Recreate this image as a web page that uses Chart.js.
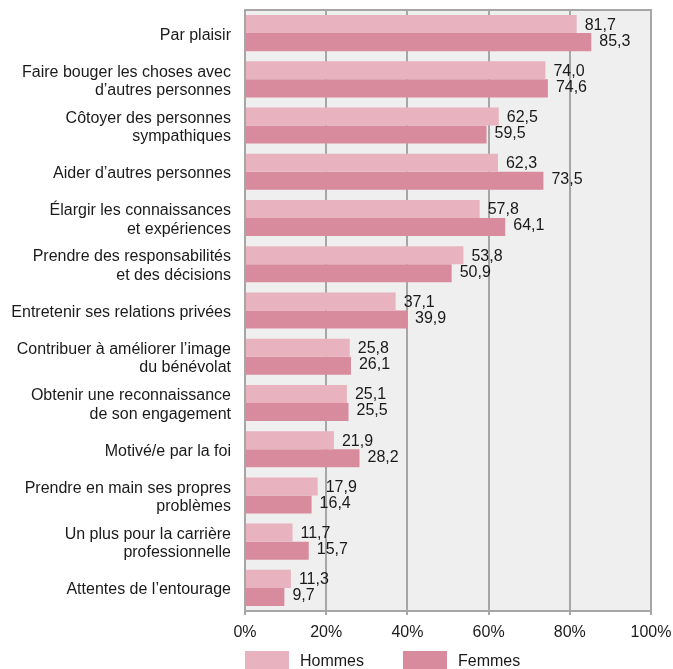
<!DOCTYPE html>
<html lang="fr">
<head>
<meta charset="utf-8">
<title>Motivations du bénévolat</title>
<script src="https://cdn.jsdelivr.net/npm/chart.js@4/dist/chart.umd.min.js"></script>
<style>
  body { margin: 0; background: #fff; }
  .wrap { position: relative; width: 673px; height: 669px; overflow: hidden; }
  .legende { position: absolute; top: 651px; font: 16px "Liberation Sans", Arial, sans-serif; color: #1a1a1a; }
  .legende span.box { position: absolute; top: 0; width: 44px; height: 20px; }
  .legende span.txt { position: absolute; top: 0; line-height: 19px; white-space: nowrap; }
</style>
</head>
<body>
<div class="wrap">
  <canvas id="graphique" width="673" height="669"></canvas>
  <div class="legende" style="left:245px"><span class="box" style="left:0;background:#e8b3bf"></span><span class="txt" style="left:55px">Hommes</span></div>
  <div class="legende" style="left:403px"><span class="box" style="left:0;background:#d98b9e"></span><span class="txt" style="left:55px">Femmes</span></div>
</div>
<script>
// données
const categories = [
  "Par plaisir",
  ["Faire bouger les choses avec", "d’autres personnes"],
  ["Côtoyer des personnes", "sympathiques"],
  "Aider d’autres personnes",
  ["Élargir les connaissances", "et expériences"],
  ["Prendre des responsabilités", "et des décisions"],
  "Entretenir ses relations privées",
  ["Contribuer à améliorer l’image", "du bénévolat"],
  ["Obtenir une reconnaissance", "de son engagement"],
  "Motivé/e par la foi",
  ["Prendre en main ses propres", "problèmes"],
  ["Un plus pour la carrière", "professionnelle"],
  "Attentes de l’entourage"
];
const hommes = [81.7, 74.0, 62.5, 62.3, 57.8, 53.8, 37.1, 25.8, 25.1, 21.9, 17.9, 11.7, 11.3];
const femmes = [85.3, 74.6, 59.5, 73.5, 64.1, 50.9, 39.9, 26.1, 25.5, 28.2, 16.4, 15.7, 9.7];
const ticksX = [0, 20, 40, 60, 80, 100];

const police = '"Liberation Sans", Arial, sans-serif';
const gris = "#a6a6a6";

// fond gris + cadre
const fondPlugin = {
  id: "fond",
  beforeDraw(chart) {
    const { ctx, chartArea: a } = chart;
    ctx.save();
    ctx.fillStyle = "#efefef";
    ctx.fillRect(a.left, a.top, a.right - a.left, a.bottom - a.top);
    ctx.strokeStyle = gris;
    ctx.lineWidth = 2;
    ctx.beginPath();
    ctx.moveTo(a.left, a.top);
    ctx.lineTo(a.right, a.top);
    ctx.lineTo(a.right, a.bottom);
    ctx.stroke();
    ctx.restore();
  }
};

// valeurs au bout des barres
const valeursPlugin = {
  id: "valeurs",
  afterDatasetsDraw(chart) {
    const ctx = chart.ctx;
    ctx.save();
    ctx.font = "16px " + police;
    ctx.fillStyle = "#1a1a1a";
    ctx.textAlign = "left";
    ctx.textBaseline = "middle";
    chart.data.datasets.forEach((ds, i) => {
      const meta = chart.getDatasetMeta(i);
      const decalage = i === 0 ? 1 : -1;
      meta.data.forEach((bar, j) => {
        const txt = ds.data[j].toFixed(1).replace(".", ",");
        ctx.fillText(txt, bar.x + 8, bar.y + decalage);
      });
    });
    ctx.restore();
  }
};

new Chart(document.getElementById("graphique"), {
  type: "bar",
  data: {
    labels: categories,
    datasets: [
      { label: "Hommes", data: hommes, backgroundColor: "#e8b3bf" },
      { label: "Femmes", data: femmes, backgroundColor: "#d98b9e" }
    ]
  },
  options: {
    indexAxis: "y",
    responsive: false,
    animation: false,
    categoryPercentage: 0.78,
    barPercentage: 1,
    layout: { padding: { top: 10, right: 22, left: 0, bottom: 0 } },
    plugins: {
      legend: { display: false },
      tooltip: { enabled: false }
    },
    scales: {
      x: {
        min: 0,
        max: 100,
        afterBuildTicks(scale) {
          scale.ticks = ticksX.map(v => ({ value: v }));
        },
        afterFit(scale) {
          scale.height = 58;
          scale.paddingLeft = 0;
          scale.paddingRight = 0;
        },
        grid: { color: gris, lineWidth: 2, tickLength: 4 },
        border: { color: gris, width: 2 },
        ticks: {
          padding: 8,
          color: "#1a1a1a",
          font: { family: police, size: 16 },
          callback: v => v + "%"
        }
      },
      y: {
        afterFit(scale) {
          scale.width = 245;
          scale.paddingTop = 0;
          scale.paddingBottom = 0;
        },
        grid: { display: false, drawTicks: false },
        border: { color: gris, width: 2 },
        ticks: {
          padding: 14,
          labelOffset: 2,
          color: "#1a1a1a",
          font: { family: police, size: 16, lineHeight: 1.15 }
        }
      }
    }
  },
  plugins: [fondPlugin, valeursPlugin]
});
</script>
</body>
</html>
